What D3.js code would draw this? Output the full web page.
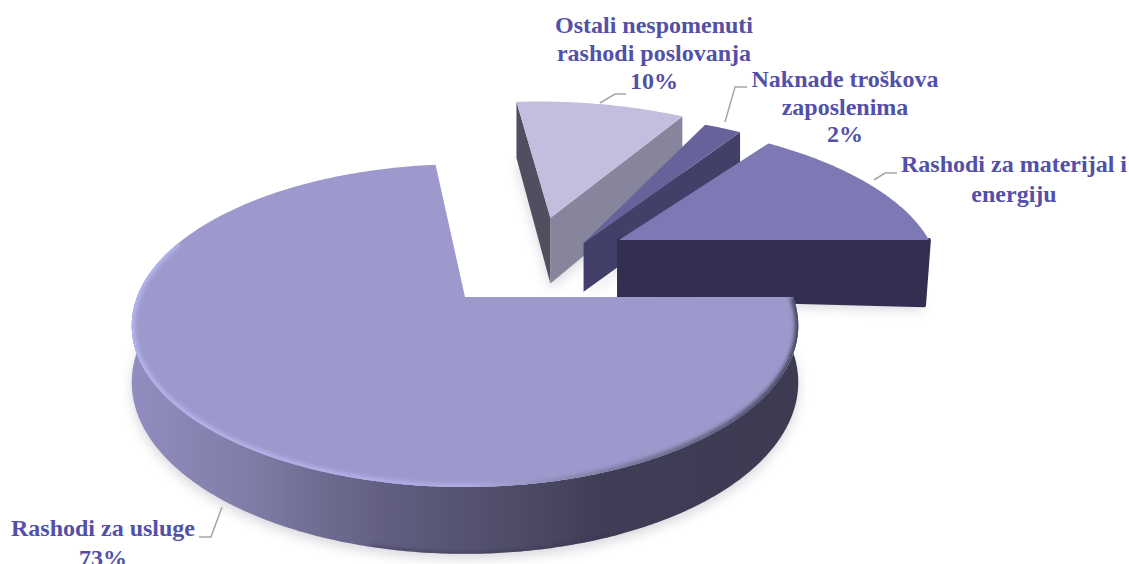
<!DOCTYPE html>
<html lang="en">
<head>
<meta charset="UTF-8">
<title>Rashodi</title>
<script src="https://d3js.org/d3.v7.min.js"></script>
<style>
    html, body { margin: 0; padding: 0; background: #fff; overflow: hidden; }
    svg { display: block; }
    text { font-family: "Liberation Serif", serif; font-weight: bold; font-size: 24px; fill: #5250a8; text-anchor: middle; }
    .leader { fill: none; stroke: #a6a6a6; stroke-width: 1.5; }
</style>
</head>
<body>
<svg width="1129" height="564"></svg>
<script>
// values in the order the slices run clockwise from east
const categories = ["Rashodi za usluge", "Ostali nespomenuti rashodi poslovanja", "Naknade troškova zaposlenima", "Rashodi za materijal i energiju"];
const shares = [73, 10, 2, 15];

// label text, one list of lines per slice
const labelLines = [
    ["Rashodi za usluge", "73%"],
    ["Ostali nespomenuti", "rashodi poslovanja", "10%"],
    ["Naknade troškova", "zaposlenima", "2%"],
    ["Rashodi za materijal i", "energiju"]
];

// layout, per slice
const explodeU = [0, 0.286, 0.385, 0.502];
const explodeV = [0, 0.555, 0.368, 0.39];
const radiusK  = [1, 1.05, 1.13, 1.01];
const turnFrom = [0, 0.045, -0.02, 0.03];
const turnTo   = [0.02, 0.045, -0.02, 0];
const depthK   = [55, 72, 52, 61];
const slantY   = [0, 0, 0.03, 0.027];
const insetX   = [0, 0, 0, 0.016];
const labelX   = [103, 654, 845, 1014];
const labelY   = [536, 33, 87, 172];
const lineGap  = [30, 28, 27.5, 30];
const leaders  = [
    [[222, 507], [211, 537], [199, 537]],
    [[600, 103], [615, 94], [626, 94]],
    [[725, 122], [735, 87], [747, 87]],
    [[874, 180], [885, 173], [897, 173]]
];

const topFill  = ["#9d99cc", "#c2bede", "#67639a", "#7d79b4"];
const cutLeft  = [null, "#504f60", null, null];
const cutRight = [null, "#86859b", "#423f68", "#332f50"];

const svg = d3.select("svg");
const defs = svg.append("defs");

// perspective of the pie plane
const cx = 465, cy = 297, R = 328, K = 156.4, P = 0.177;
const project = (u, v) => {
    const w = 1 + P * v;
    return [cx + R * u / w, cy - K * v / w, w];
};

const slices = d3.pie().sort(null).value(d => d)
    .startAngle(Math.PI / 2).endAngle(Math.PI * 2.5)(shares);

const line = d3.line();

function arcPoints(i, a0, a1) {
    const n = Math.max(2, Math.ceil(Math.abs(a1 - a0) / 0.01));
    return d3.range(n + 1).map(k => {
        const a = a0 + (a1 - a0) * k / n;
        return project(explodeU[i] + radiusK[i] * Math.sin(a), explodeV[i] + radiusK[i] * Math.cos(a));
    });
}
const apex = i => project(explodeU[i], explodeV[i]);
const down = (i, p) => {
    const run = p[0] - apex(i)[0];
    return [p[0] - insetX[i] * run, p[1] + depthK[i] / p[2] + slantY[i] * run];
};

// gradients and filters
const sideGrad = defs.append("linearGradient").attr("id", "side")
    .attr("gradientUnits", "userSpaceOnUse")
    .attr("x1", 132).attr("x2", 800).attr("y1", 0).attr("y2", 0);
[[0, "#918dbf"], [0.18, "#7f7ca6"], [0.37, "#625f82"], [0.58, "#4d4b66"], [0.7, "#403d56"], [1, "#3c3b52"]]
    .forEach(s => sideGrad.append("stop").attr("offset", s[0]).attr("stop-color", s[1]));

const bevelGrad = defs.append("linearGradient").attr("id", "bevel")
    .attr("gradientUnits", "userSpaceOnUse")
    .attr("x1", 132).attr("x2", 800).attr("y1", 0).attr("y2", 0);
[[0, "#b8b7f0"], [0.5, "#b2b0ea"], [0.62, "#8f8dbb"], [0.78, "#6a6888"], [1, "#3a394f"]]
    .forEach(s => bevelGrad.append("stop").attr("offset", s[0]).attr("stop-color", s[1]));

defs.append("filter").attr("id", "soft").attr("x", "-10%").attr("y", "-10%").attr("width", "120%").attr("height", "120%")
    .append("feGaussianBlur").attr("stdDeviation", 6);
defs.append("filter").attr("id", "edge").attr("x", "-10%").attr("y", "-10%").attr("width", "120%").attr("height", "120%")
    .append("feGaussianBlur").attr("stdDeviation", 2);

function outline(i) {
    const s = slices[i];
    return [apex(i), ...arcPoints(i, s.startAngle + turnFrom[i], s.endAngle + turnTo[i])];
}

// soft shadows first
const shadows = svg.append("g").attr("filter", "url(#soft)").attr("opacity", 0.28);
[1, 2, 3, 0].forEach(i => {
    shadows.append("path")
        .attr("d", line(outline(i).map(p => { const d = down(i, p); return [d[0], d[1] + 5]; })) + "Z")
        .attr("fill", "#77778a");
});

// far slices first, the large one last
[1, 2, 3, 0].forEach(i => {
    const s = slices[i];
    const g = svg.append("g").attr("class", "slice");
    const a = apex(i);
    const pts = outline(i);
    const top = pts.slice(1);
    const first = top[0], last = top[top.length - 1];

    // outer wall; only the front part of the large slice shows
    if (i === 0) {
        const wall = arcPoints(i, Math.PI / 2, Math.PI * 1.62);
        const wallBottom = wall.map(p => down(i, p));
        const wallPts = [...wall, ...wallBottom.slice().reverse()];
        g.append("path").attr("d", line(wallPts) + "Z").attr("fill", "url(#side)");
        defs.append("clipPath").attr("id", "wallClip")
            .append("path").attr("d", line(wallPts) + "Z");
        // dark line along the foot of the wall, front part only
        g.append("g").attr("clip-path", "url(#wallClip)")
            .append("path").attr("d", line(wallBottom.filter(p => p[0] > 370 && p[0] < 620)))
            .attr("fill", "none").attr("stroke", "#35334b").attr("stroke-width", 2).attr("filter", "url(#edge)");
    }

    // cut faces
    if (cutLeft[i]) {
        g.append("path").attr("d", line([a, first, down(i, first), down(i, a)]) + "Z").attr("fill", cutLeft[i]);
    }
    if (cutRight[i]) {
        g.append("path").attr("d", line([a, last, down(i, last), down(i, a)]) + "Z")
            .attr("fill", cutRight[i]).attr("stroke", cutRight[i])
            .attr("stroke-width", i === 3 ? 4 : 0).attr("stroke-linejoin", "round");
    }

    g.append("path").attr("d", line(pts) + "Z").attr("fill", topFill[i]);

    // rim shading on the top face
    const clipId = "clip" + i;
    defs.append("clipPath").attr("id", clipId)
        .append("path").attr("d", line(pts) + "Z");
    const rim = g.append("g").attr("clip-path", `url(#${clipId})`);
    if (i === 0) {
        rim.append("path").attr("d", line(arcPoints(i, Math.PI / 2, Math.PI * 1.62)))
            .attr("fill", "none").attr("stroke", "url(#bevel)").attr("stroke-width", 6).attr("filter", "url(#edge)");
    }
});

// labels and leader lines
svg.selectAll("path.leader").data(leaders).join("path")
    .attr("class", "leader").attr("d", d => line(d));

labelLines.forEach((lines, i) => {
    const t = svg.append("text");
    lines.forEach((txt, k) => {
        t.append("tspan").attr("x", labelX[i]).attr("y", labelY[i] + k * lineGap[i]).text(txt);
    });
});
</script>
</body>
</html>
